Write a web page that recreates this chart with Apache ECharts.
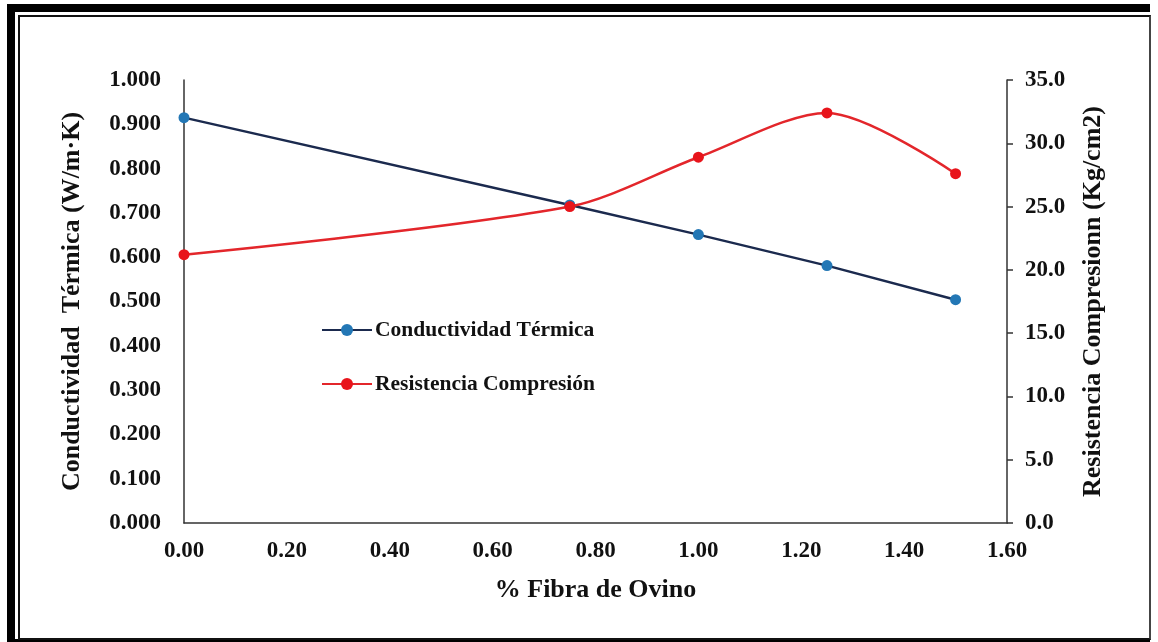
<!DOCTYPE html>
<html>
<head>
<meta charset="utf-8">
<script src="https://cdn.jsdelivr.net/npm/echarts@6/dist/echarts.min.js"></script>
<style>
  html, body { margin: 0; padding: 0; background: #fff; }
  #wrap { position: relative; width: 1158px; height: 642px; overflow: hidden; background: #fff; }
  #frameOuter {
    position: absolute; left: 7px; top: 4px; width: 1135px; height: 627px;
    border-left: 8px solid #000; border-top: 8px solid #000;
    border-bottom: 6px solid #000;
  }
  #frameInner {
    position: absolute; left: 18px; top: 15px; width: 1129px; height: 621px;
    border-left: 2px solid #111; border-top: 2px solid #111;
    border-right: 2px solid #444; border-bottom: 2px solid #111;
  }
  #chart { position: absolute; left: 0; top: 0; width: 1158px; height: 642px; }
</style>
</head>
<body>
<div id="wrap">
  <div id="frameOuter"></div>
  <div id="frameInner"></div>
  <div id="chart"></div>
</div>
<script>
// Fibre content (%) of each mix
const fibra = [0.00, 0.75, 1.00, 1.25, 1.50];
// Thermal conductivity, W/m·K
const conductividad = [0.915, 0.718, 0.651, 0.581, 0.504];
// Compressive strength, Kg/cm2
const resistencia = [21.2, 25.0, 28.9, 32.4, 27.6];

const xTicks = { min: 0, max: 1.6, interval: 0.2 };
const yLeftTicks = { min: 0, max: 1.0, interval: 0.1 };
const yRightTicks = { min: 0, max: 35, interval: 5 };

const FONT = 'Liberation Serif';
const labelStyle = { fontFamily: FONT, fontWeight: 'bold', fontSize: 23, color: '#111' };
const nameStyle = { fontFamily: FONT, fontWeight: 'bold', fontSize: 26, color: '#111' };
const axisLine = { show: true, lineStyle: { color: '#333', width: 1.5 } };

const chart = echarts.init(document.getElementById('chart'), null, { renderer: 'canvas' });

chart.setOption({
  backgroundColor: 'transparent',
  animation: false,
  grid: { left: 184, right: 151, top: 80, bottom: 119, containLabel: false },
  legend: {
    orient: 'vertical',
    left: 316,
    top: 314,
    itemWidth: 50,
    itemHeight: 15,
    itemGap: 32,
    textStyle: { fontFamily: FONT, fontWeight: 'bold', fontSize: 21.5, color: '#111', padding: [0, 0, 0, -2] },
    data: ['Conductividad Térmica', 'Resistencia Compresión']
  },
  xAxis: {
    type: 'value',
    min: xTicks.min, max: xTicks.max, interval: xTicks.interval,
    name: '% Fibra de Ovino',
    nameLocation: 'middle',
    nameGap: 54,
    nameTextStyle: nameStyle,
    axisLine: axisLine,
    axisTick: { show: false },
    splitLine: { show: false },
    axisLabel: Object.assign({}, labelStyle, { margin: 17, formatter: v => v.toFixed(2) })
  },
  yAxis: [
    {
      type: 'value',
      min: yLeftTicks.min, max: yLeftTicks.max, interval: yLeftTicks.interval,
      name: 'Conductividad  Térmica (W/m·K)',
      nameLocation: 'middle',
      nameGap: 99,
      nameTextStyle: nameStyle,
      axisLine: axisLine,
      axisTick: { show: false },
      splitLine: { show: false },
      axisLabel: Object.assign({}, labelStyle, { margin: 23, formatter: v => v.toFixed(3) })
    },
    {
      type: 'value',
      position: 'right',
      min: yRightTicks.min, max: yRightTicks.max, interval: yRightTicks.interval,
      name: 'Resistencia Compresionn (Kg/cm2)',
      nameLocation: 'middle',
      nameGap: 73,
      nameTextStyle: nameStyle,
      axisLine: axisLine,
      axisTick: { show: true, inside: false, length: 6, lineStyle: { color: '#333', width: 1.5 } },
      splitLine: { show: false },
      axisLabel: Object.assign({}, labelStyle, { margin: 18, formatter: v => v.toFixed(1) })
    }
  ],
  series: [
    {
      name: 'Conductividad Térmica',
      type: 'line',
      yAxisIndex: 0,
      data: fibra.map((x, i) => [x, conductividad[i]]),
      symbol: 'circle',
      symbolSize: 11,
      lineStyle: { color: '#1b2a4e', width: 2.5 },
      itemStyle: { color: '#2377b5', borderWidth: 0 },
      z: 2
    },
    {
      name: 'Resistencia Compresión',
      type: 'line',
      yAxisIndex: 1,
      smooth: 0.3,
      data: fibra.map((x, i) => [x, resistencia[i]]),
      symbol: 'circle',
      symbolSize: 11,
      lineStyle: { color: '#e3262b', width: 2.5 },
      itemStyle: { color: '#e8141b', borderWidth: 0 },
      z: 3
    }
  ]
});
</script>
</body>
</html>
